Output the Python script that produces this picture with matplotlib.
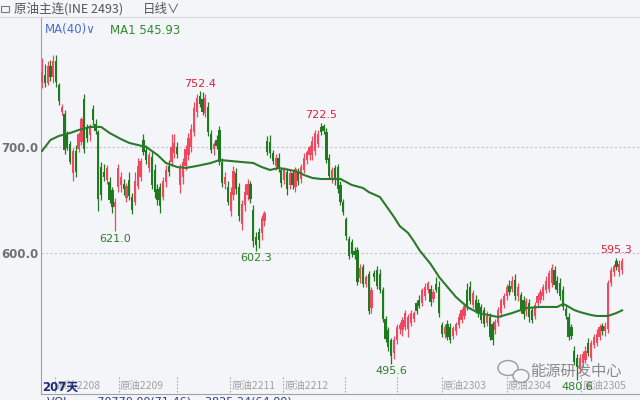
import matplotlib
matplotlib.use('Agg')
import matplotlib.pyplot as plt
import matplotlib.transforms as mtransforms
from matplotlib.patches import Ellipse, Rectangle

CJK = ['Noto Sans CJK SC', 'DejaVu Sans']

# daily candles, 207 days (open, high, low, close)
opens = [761, 768, 760, 776, 766, 781, 758, 733, 731, 712, 703, 675, 696, 698, 705, 745, 718, 711, 736, 722,
         714, 681, 676, 669, 667, 659, 643, 662, 664, 665, 652, 669, 653, 648, 663, 672, 707, 697, 680, 691,
         678, 660, 662, 653, 667, 682, 686, 694, 700, 664, 672, 682, 692, 700, 714, 733, 748, 745, 732, 738,
         712, 698, 707, 716, 686, 665, 662, 640, 655, 675, 662, 627, 645, 655, 665, 641, 615, 620, 619, 630,
         706, 705, 694, 682, 690, 678, 669, 676, 664, 675, 662, 676, 670, 678, 688, 692, 692, 696, 703, 719,
         720, 714, 690, 669, 680, 681, 664, 648, 632, 613, 610, 602, 603, 576, 587, 571, 580, 548, 581, 584,
         580, 565, 538, 527, 518, 506, 518, 528, 527, 530, 528, 534, 538, 553, 556, 553, 559, 565, 566, 557,
         571, 568, 532, 524, 533, 530, 522, 526, 532, 537, 541, 565, 568, 551, 556, 553, 549, 546, 534, 540,
         533, 527, 534, 543, 551, 559, 569, 566, 575, 559, 560, 556, 545, 553, 546, 541, 553, 556, 559, 565,
         566, 572, 584, 574, 572, 565, 547, 540, 530, 508, 501, 491, 496, 499, 515, 501, 513, 515, 521, 531,
         526, 528, 572, 582, 592, 582, 584]
highs = [784, 778, 781, 782, 787, 787, 760, 741, 735, 715, 706, 699, 702, 714, 728, 750, 722, 722, 740, 726,
         716, 686, 684, 683, 672, 662, 652, 684, 676, 670, 666, 676, 657, 676, 690, 690, 712, 702, 695, 697,
         684, 665, 666, 672, 683, 688, 712, 712, 705, 684, 690, 702, 713, 722, 742, 750, 752.4, 752, 750, 742,
         716, 705, 711, 720, 690, 676, 668, 662, 682, 680, 666, 650, 665, 670, 668, 645, 620, 624, 636, 640,
         710, 711, 697, 693, 694, 681, 681, 680, 679, 678, 681, 680, 684, 694, 697, 702, 710, 716, 716, 722.5,
         722, 718, 693, 681, 683, 684, 668, 651, 634, 616, 613, 606, 606, 590, 590, 579, 583, 568, 584, 588,
         585, 568, 541, 530, 520, 522, 533, 535, 540, 546, 542, 546, 545, 556, 560, 567, 572, 574, 570, 566,
         577, 574, 535, 533, 537, 534, 531, 535, 543, 548, 553, 572, 574, 565, 560, 557, 552, 549, 545, 543,
         536, 538, 549, 558, 562, 571, 575, 578, 580, 572, 563, 559, 558, 557, 549, 554, 562, 566, 571, 578,
         584, 590, 588, 578, 576, 569, 551, 543, 533, 512, 505, 505, 508, 512, 520, 518, 524, 528, 533, 534,
         535, 575, 587, 590, 595.3, 593, 595]
lows = [756, 757, 758, 762, 760, 757, 740, 730, 693, 697, 684, 668, 672, 695, 702, 694, 705, 706, 721, 712,
        640, 650, 668, 665, 647, 638, 621.0, 658, 658, 655, 648, 650, 637, 645, 660, 668, 692, 684, 676, 660,
        652, 645, 638, 650, 662, 673, 682, 690, 690, 657, 665, 678, 688, 695, 710, 728, 738, 730, 728, 710,
        694, 692, 698, 683, 662, 660, 645, 635, 650, 656, 630, 622, 640, 650, 647, 606, 602.3, 605, 612, 625,
        692, 690, 684, 678, 676, 662, 665, 655, 660, 660, 658, 664, 666, 675, 684, 688, 688, 692, 700, 711,
        712, 685, 670, 666, 664, 657, 645, 636, 612, 594, 596, 594, 570, 572, 568, 568, 542, 543, 574, 566,
        562, 535, 516, 508, 495.6, 500, 514, 524, 522, 527, 521, 531, 535, 542, 548, 550, 556, 562, 550, 554,
        563, 540, 521, 520, 518, 515, 519, 523, 529, 534, 538, 546, 552, 548, 543, 540, 534, 530, 531, 518,
        513, 524, 531, 540, 548, 556, 560, 563, 556, 555, 543, 538, 541, 535, 534, 538, 550, 553, 556, 562,
        563, 568, 566, 562, 556, 546, 538, 518, 519, 494, 480.6, 487, 492, 496, 503, 498, 510, 512, 518, 523,
        522, 525, 569, 578, 584, 578, 580]
closes = [771, 760, 776, 766, 781, 761, 743, 738, 697, 699, 686, 696, 676, 712, 726, 698, 708, 719, 725, 715,
          651, 655, 672, 680, 650, 643, 648, 680, 672, 660, 663, 654, 641, 668, 682, 687, 695, 688, 692, 664,
          658, 650, 644, 668, 678, 676, 700, 704, 693, 680, 686, 698, 708, 717, 737, 746, 741, 733, 746, 714,
          697, 703, 701, 686, 666, 672, 648, 658, 677, 660, 635, 646, 658, 665, 651, 611, 608, 612, 633, 638,
          695, 694, 687, 690, 679, 666, 678, 660, 675, 664, 679, 668, 681, 690, 695, 700, 706, 713, 712, 714,
          715, 688, 673, 678, 669, 660, 648, 639, 616, 597, 599, 598, 573, 586, 571, 577, 545, 565, 577, 569,
          565, 538, 519, 511, 503, 518, 530, 532, 537, 543, 540, 543, 543, 545, 550, 565, 568, 572, 554, 563,
          565, 543, 524, 530, 521, 518, 529, 533, 540, 546, 550, 549, 555, 562, 546, 543, 537, 533, 541, 521,
          518, 535, 546, 556, 559, 568, 563, 574, 559, 568, 546, 542, 555, 540, 537, 551, 559, 563, 568, 574,
          581, 586, 570, 565, 559, 549, 541, 521, 522, 497, 492, 501, 505, 508, 506, 515, 521, 524, 530, 526,
          531, 572, 584, 588, 587, 590, 592]

# MA(40) at sample days
ma_days = [0, 3, 6, 10, 13, 17, 21, 24, 28, 31, 37, 41, 44, 48, 51, 55, 60, 63, 67, 71, 75, 78, 81, 84, 88, 91,
           93, 96, 99, 102, 106, 110, 114, 116, 120, 122, 125, 127, 130, 132, 134, 138, 141, 144, 147, 151, 155,
           162, 167, 172, 177, 183, 185, 186, 189, 191, 195, 197, 201, 204, 206]
ma_vals = [696.2, 706.6, 710.4, 713.2, 716.0, 718.9, 718.9, 713.2, 707.5, 703.8, 700.0, 692.5, 684.9, 681.1,
           680.2, 682.1, 684.9, 687.7, 686.8, 685.8, 684.9, 681.1, 678.3, 680.2, 678.3, 676.4, 673.6, 670.8,
           669.8, 669.8, 669.8, 664.2, 661.3, 657.5, 652.8, 645.3, 634.0, 625.5, 618.9, 611.3, 602.8, 589.6,
           577.4, 567.9, 558.5, 549.1, 543.4, 539.6, 543.4, 548.1, 549.1, 549.1, 551.9, 550.9, 546.2, 544.3,
           541.5, 540.6, 540.6, 543.4, 545.9]

high_marks = [56, 99, 204]
low_marks = [26, 76, 124, 190]

contract_days = [4.6, 27.3, 47.9, 66.8, 85.6, 107.6, 126.1, 142.0, 165.1, 191.4]
contract_names = ['原油2208', '原油2209', '', '原油2211', '原油2212', '', '', '原油2303', '原油2304', '原油2305']

bg = '#f4f5f9'
up_c = '#f0485e'
dn_c = '#1f7a1f'

fig = plt.figure(figsize=(6.4, 4), dpi=100, facecolor=bg)
ax = fig.add_axes([41 / 640, 6 / 400, 599 / 640, 377 / 400])
ax.set_facecolor(bg)

xs = list(range(len(closes)))
cols = [up_c if c >= o else dn_c for o, c in zip(opens, closes)]
bottoms = [min(o, c) for o, c in zip(opens, closes)]
heights = [max(abs(c - o), 0.8) for o, c in zip(opens, closes)]
ax.vlines(xs, lows, highs, colors=cols, linewidth=0.9, zorder=2)
ax.bar(xs, heights, bottom=bottoms, width=0.8, color=cols, linewidth=0, zorder=3)

ax.plot(ma_days, ma_vals, color='#2b7a2b', lw=1.5, zorder=4)

for y in (600, 700):
    ax.axhline(y, color='#c4c4c4', lw=0.8, ls=(0, (2, 2)), zorder=1)

for i in high_marks:
    ax.annotate(f'{highs[i]:.1f}', (i, highs[i]), xytext=(0, 2), textcoords='offset points',
                ha='center', va='bottom', color='#e0203c', fontsize=8, zorder=5)
for i in low_marks:
    ax.annotate(f'{lows[i]:.1f}', (i, lows[i]), xytext=(0, -2), textcoords='offset points',
                ha='center', va='top', color='#2b7d2b', fontsize=8, zorder=6)

ax.set_xlim(-0.355, 212.36)
ax.set_ylim(467.0, 822.6)
ax.set_xticks([])
ax.set_yticks([600, 700])
ax.set_yticklabels(['600.0', '700.0'], color='#707070', fontsize=8.5, fontweight='bold')
ax.tick_params(axis='y', length=0, pad=2)
for s in ('top', 'right'):
    ax.spines[s].set_visible(False)
for s in ('left', 'bottom'):
    ax.spines[s].set_color('#a0a0a0')
    ax.spines[s].set_linewidth(0.8)

# contract separators and names along the bottom
trans = mtransforms.blended_transform_factory(ax.transData, ax.transAxes)
ax.vlines(contract_days, 0.005, 0.045, transform=trans, colors='#a8a8a8', lw=0.8, ls=(0, (1.5, 1.5)))
for d, name in zip(contract_days, contract_names):
    if name:
        ax.text(d + 0.4, 0.022, name, transform=trans, ha='left', va='center', fontsize=7.5,
                color='#a0a0a0', family=CJK, zorder=5)

fig.text(42 / 640, 1 - 387 / 400, '207天', fontsize=8.5, fontweight='bold', color='#1c2a7c',
         va='center', family=['DejaVu Sans', 'Noto Sans CJK SC'])

# header
fig.add_artist(Rectangle((1 / 640, 1 - 12 / 400), 8 / 640, 6 / 400, transform=fig.transFigure,
                         facecolor='none', edgecolor='#777777', lw=0.8))
fig.text(14 / 640, 1 - 9 / 400, '原油主连(INE 2493)', fontsize=9, color='#555555', va='center', family=CJK)
fig.text(143 / 640, 1 - 9 / 400, '日线∨', fontsize=9, color='#555555', va='center', family=CJK)
fig.add_artist(plt.Line2D([0, 1], [1 - 17 / 400, 1 - 17 / 400], transform=fig.transFigure,
                          color='#d6d6d6', lw=0.8))
fig.text(45 / 640, 1 - 30 / 400, 'MA(40)∨', fontsize=8.5, color='#4a6cd4', va='center')
fig.text(110 / 640, 1 - 30 / 400, 'MA1 545.93', fontsize=8.5, color='#2e8b2e', va='center')

# watermark
fig.add_artist(Ellipse((508 / 640, 1 - 368 / 400), 20 / 640, 15 / 400, transform=fig.transFigure,
                       facecolor='none', edgecolor='#9a9a9a', lw=1))
fig.add_artist(Ellipse((521 / 640, 1 - 376 / 400), 16 / 640, 13 / 400, transform=fig.transFigure,
                       facecolor=bg, edgecolor='#9a9a9a', lw=1))
fig.text(530 / 640, 1 - 371 / 400, '能源研发中心', fontsize=11, color='#8a8a8a', va='center', family=CJK)

fig.text(47 / 640, 1 - 396 / 400, 'VOL        70770.00(71.46)    3825.24(64.00)', fontsize=8,
         color='#2a3a8a', va='top')

fig.savefig('out.png', dpi=100, facecolor=bg)
